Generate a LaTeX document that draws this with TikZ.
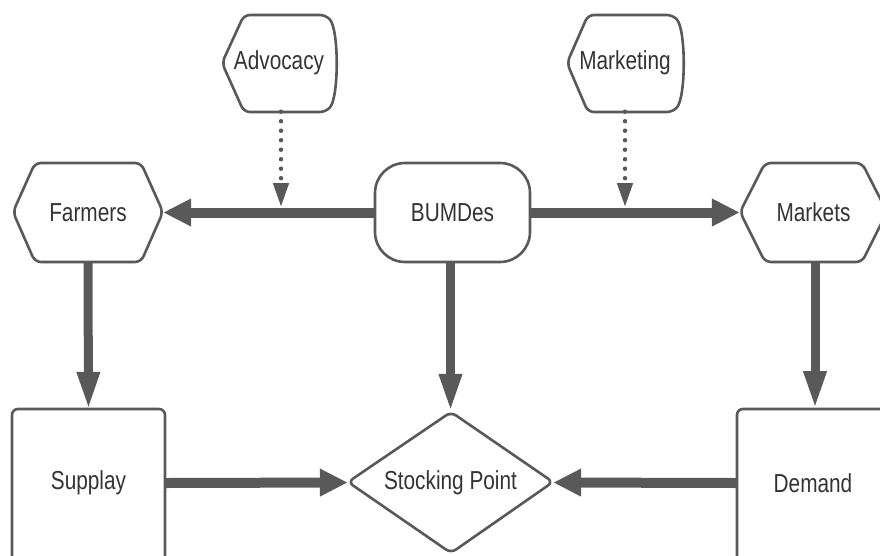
\documentclass[tikz,border=0pt]{standalone}
\usepackage{fontspec}
\newfontfamily\lbfont{Liberation Sans}[FakeStretch=0.8]
\usetikzlibrary{arrows.meta}
\definecolor{lc}{HTML}{595959}
\tikzset{
  outline/.style={draw=lc, line width=2.6pt, rounded corners=6pt, fill=white},
  lbl/.style={font=\lbfont\fontsize{26}{30}\selectfont, text=black!80, inner sep=0pt},
  harrow/.style={draw=lc, line width=10pt, -{Triangle[length=28pt,width=26pt]}},
  varrow/.style={draw=lc, line width=9pt, -{Triangle[length=38pt,width=21pt]}},
  dotarrow/.style={draw=lc, line width=4.5pt, line cap=round, dash pattern=on 0pt off 9.5pt, -{Triangle[length=24pt,width=15pt]}},
}
\begin{document}
\begin{tikzpicture}[x=1pt,y=-1pt]
\useasboundingbox (0,0) rectangle (880,555);
% outlines
\draw[outline] (222,63) -- (244,15) -- (326,15) .. controls (339,30) and (339,97) .. (326,112) -- (244,112) -- cycle;
\draw[outline] (567,63) -- (588,15) -- (673,15) .. controls (686,30) and (686,97) .. (673,112) -- (588,112) -- cycle;
\draw[outline] (13,212) -- (35,163) -- (141,163) -- (163,212) -- (141,262) -- (35,262) -- cycle;
\draw[outline, rounded corners=30pt] (375,163) rectangle (530,262);
\draw[outline] (740,212) -- (765,163) -- (862,163) -- (887,212) -- (862,262) -- (765,262) -- cycle;
\draw[outline] (12,563) -- (12,409) -- (165,409) -- (165,563);
\draw[outline] (892,409) -- (737,409) -- (737,563);
\draw[outline] (348,482) -- (451,412) -- (553,482) -- (451,553) -- cycle;
% labels / named nodes
\node[lbl, minimum width=114pt, minimum height=97pt] (adv) at (279,63) {Advocacy};
\node[lbl, minimum width=116pt, minimum height=97pt] (mkt) at (625,63) {Marketing};
\node[lbl, minimum width=150pt, minimum height=99pt] (farm) at (88,212.5) {Farmers};
\node[lbl, minimum width=155pt, minimum height=99pt] (bum) at (452.5,212.5) {BUMDes};
\node[lbl, minimum width=147pt, minimum height=99pt] (mar) at (813.5,212.5) {Markets};
\node[lbl, minimum width=153pt, minimum height=146pt] (sup) at (88.5,483) {Supplay};
\node[lbl, minimum width=205pt, minimum height=141pt] (stock) at (450.5,482.5) {Stocking Point};
\node[lbl, minimum width=152pt, minimum height=146pt] (dem) at (813,483) {Demand};
\coordinate (advhit) at (281,207);
\coordinate (mkthit) at (625,207);
\coordinate (martop) at (815,262);
\coordinate (demtop) at (815,409);
% connectors
\draw[harrow] (bum.west) -- (farm.east);
\draw[harrow] (bum.east) -- (mar.west);
\draw[varrow] (farm.south) -- (sup.north);
\draw[varrow] (bum.south -| stock.north) -- (stock.north);
\draw[varrow] (martop) -- (demtop);
\draw[harrow] (sup.east) -- (stock.west);
\draw[harrow] (dem.west) -- (stock.east);
\draw[dotarrow] (adv.south -| advhit) -- (advhit);
\draw[dotarrow] (mkt.south -| mkthit) -- (mkthit);
\end{tikzpicture}
\end{document}
